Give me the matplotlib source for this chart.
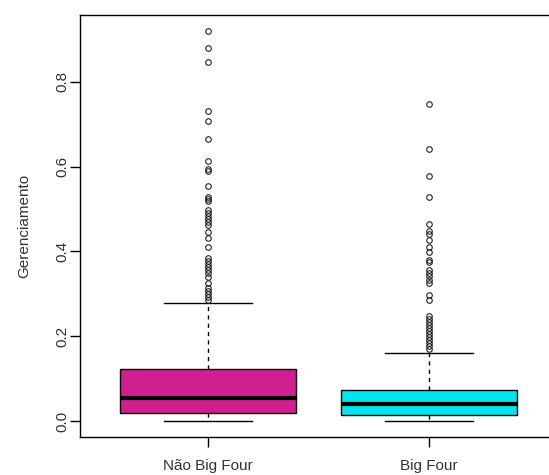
import matplotlib
matplotlib.use("Agg")
import matplotlib.pyplot as plt

plt.rcParams['font.family'] = ['Liberation Sans', 'DejaVu Sans']

categories = ["Não Big Four", "Big Four"]
colors = ["#D02090", "#00E5EE"]

whislo = [0.0, 0.0]
q1 = [0.0196, 0.014]
med = [0.055, 0.041]
q3 = [0.124, 0.075]
whishi = [0.278, 0.160]

fliers_nbf = [0.920, 0.878, 0.847, 0.731, 0.708, 0.665, 0.613, 0.594, 0.590,
              0.554, 0.528, 0.524, 0.519, 0.498, 0.491, 0.484, 0.477, 0.469,
              0.462, 0.446, 0.432, 0.410, 0.385, 0.377, 0.370, 0.363, 0.356,
              0.349, 0.340, 0.326, 0.314, 0.307, 0.300, 0.293, 0.285]
fliers_bf = [0.748, 0.642, 0.578, 0.528, 0.465, 0.448, 0.441, 0.427, 0.411,
             0.399, 0.380, 0.375, 0.356, 0.349, 0.342, 0.333, 0.326, 0.297,
             0.285, 0.248, 0.241, 0.234, 0.227, 0.220, 0.213, 0.205, 0.198,
             0.191, 0.184, 0.177, 0.170]

yticks = [0.0, 0.2, 0.4, 0.6, 0.8]
ylabel = "Gerenciamento"

stats = []
for i, cat in enumerate(categories):
    stats.append(dict(label=cat, whislo=whislo[i], q1=q1[i], med=med[i],
                      q3=q3[i], whishi=whishi[i],
                      fliers=[fliers_nbf, fliers_bf][i]))

fig = plt.figure(figsize=(5.49, 4.75), dpi=100)
ax = fig.add_axes([80/549, 38/475, 477/549, 422/475])

bp = ax.bxp(stats, positions=[1, 2], widths=0.8, patch_artist=True,
            boxprops=dict(edgecolor="black", linewidth=1.0),
            medianprops=dict(color="black", linewidth=3.0, solid_capstyle="butt"),
            whiskerprops=dict(color="black", linewidth=1.0, linestyle=(0, (3, 3))),
            capprops=dict(color="black", linewidth=1.0),
            capwidths=0.4,
            flierprops=dict(marker="o", markersize=4.0, markerfacecolor="none",
                            markeredgecolor="#222222", markeredgewidth=0.8,
                            linestyle="none"))
for patch, c in zip(bp["boxes"], colors):
    patch.set_facecolor(c)

ax.set_xlim(0.42, 2.58)
ax.set_ylim(-0.0368, 0.9568)
ax.set_yticks(yticks)
ax.set_yticklabels([f"{t:.1f}" for t in yticks], rotation=90, va="center")
ax.set_xticks([1, 2])
ax.set_xticklabels(categories)
ax.tick_params(axis="both", length=7, width=1, labelsize=11, color="black",
               labelcolor="#333333")
ax.tick_params(axis="y", pad=1)
ax.tick_params(axis="x", pad=9)
ax.set_ylabel(ylabel, fontsize=11, labelpad=17, color="#333333")
for s in ax.spines.values():
    s.set_linewidth(1.0)
    s.set_color("black")

fig.savefig("out.png", dpi=100)
